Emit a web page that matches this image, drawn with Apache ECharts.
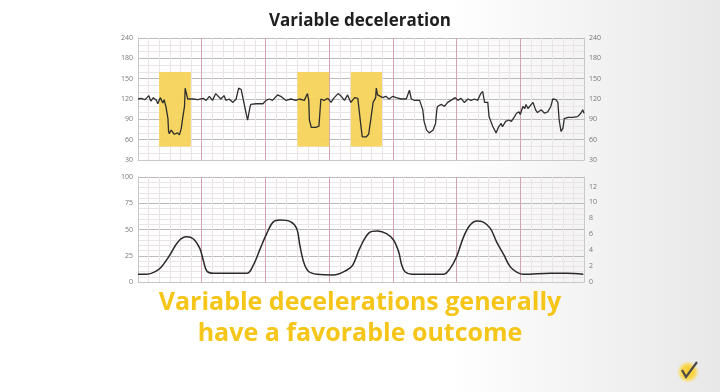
<!DOCTYPE html>
<html><head><meta charset="utf-8">
<script src="https://cdn.jsdelivr.net/npm/echarts@6/dist/echarts.min.js"></script>
<style>html,body{margin:0;padding:0;}#c{width:720px;height:392px;}</style>
</head><body><div id="c"></div>
<script>
// Fetal heart rate trace: [minute, bpm]
var fhrTime = [0.00,0.05,0.11,0.17,0.20,0.24,0.29,0.31,0.35,0.36,0.39,0.41,0.44,0.47,0.48,0.49,0.52,0.54,0.57,0.59,0.62,0.65,0.68,0.70,0.73,0.74,0.76,0.78,0.86,0.94,1.02,1.07,1.12,1.17,1.22,1.30,1.35,1.38,1.43,1.49,1.54,1.58,1.62,1.64,1.65,1.68,1.72,1.74,1.76,1.77,1.85,1.96,2.01,2.06,2.11,2.19,2.24,2.32,2.40,2.48,2.53,2.61,2.66,2.68,2.69,2.72,2.79,2.84,2.87,2.90,2.92,2.98,3.03,3.08,3.14,3.19,3.24,3.29,3.34,3.40,3.45,3.47,3.50,3.52,3.58,3.62,3.66,3.69,3.73,3.74,3.76,3.79,3.84,3.89,3.94,4.00,4.05,4.13,4.21,4.26,4.29,4.34,4.42,4.47,4.49,4.53,4.57,4.63,4.67,4.69,4.70,4.76,4.81,4.86,4.91,4.98,5.02,5.07,5.12,5.18,5.23,5.28,5.33,5.38,5.41,5.44,5.49,5.51,5.57,5.62,5.66,5.70,5.72,5.77,5.82,5.86,5.91,5.94,5.98,6.00,6.04,6.07,6.09,6.12,6.14,6.20,6.24,6.27,6.33,6.38,6.43,6.48,6.51,6.56,6.59,6.61,6.64,6.67,6.69,6.75,6.82,6.90,6.95,6.98,7.00];
var fhrBpm = [120,121,119,125,117,122,118,113,122,120,114,119,108,91,72,69,74,73,68,69,70,67,77,91,109,136,136,120,120,119,121,118,124,118,128,120,125,118,120,115,120,136,134,133,120,118,89,87,109,112,113,113,118,120,118,126,124,118,120,118,120,118,128,118,89,78,78,80,120,121,118,121,115,122,128,124,118,126,115,122,121,120,79,64,64,68,94,115,122,136,126,128,122,124,120,124,122,120,120,133,120,118,118,104,87,74,70,74,84,104,109,112,109,115,118,122,118,121,115,120,118,120,118,128,131,115,115,94,79,70,79,84,79,87,89,87,94,99,101,97,109,106,112,106,104,115,104,100,104,99,101,109,120,119,115,89,72,77,91,93,93,94,99,104,99];
// Uterine contractions: [minute, mmHg]
var ucTime = [0.00,0.14,0.27,0.37,0.50,0.63,0.76,0.87,0.97,1.03,1.08,1.18,1.71,1.81,1.92,2.02,2.12,2.23,2.39,2.49,2.54,2.60,2.67,2.81,3.07,3.28,3.37,3.48,3.63,3.76,3.90,4.01,4.09,4.14,4.19,4.30,4.79,4.90,5.00,5.11,5.21,5.32,5.42,5.53,5.63,5.74,5.84,5.95,6.05,6.47,6.73,6.99];
var ucVal = [7.3,7.3,9.8,14.6,25.7,38.4,43,41,32,19.4,10.5,8.3,8.3,16,32,46,57,59,57.5,51,35,19,10.5,7.3,6.7,11.4,16,32,47,48.5,46,40,29,16,9.8,7.3,7.3,13,24,43,54,58,57,51,38,26,14.6,9.2,7.3,8.3,8.3,7.3];
// Highlighted decelerations [start minute, end minute, bpm low, bpm high]
var highlights = [[0.33,0.83,50,160],[2.50,3.00,50,160],[3.34,3.83,50,160]];
var fhrTicksTopLabel = '240';
var titleText = 'Variable deceleration';
var captionLines = ['Variable decelerations generally','have a favorable outcome'];

function zip(a,b){return a.map(function(v,i){return [v,b[i]];});}

var chart = echarts.init(document.getElementById('c'));
var majorV = '#d3a4b0', minorC = '#ebe4e7', majorH = '#bbbbbb';
var lblStyle = {color:'#777', fontSize:7, fontFamily:'Open Sans'};
function xAx(gi){
  return {type:'value', gridIndex:gi, min:0, max:7, interval:1,
    axisLine:{show:true, lineStyle:{color:'#c8c8c8'}}, axisTick:{show:false}, axisLabel:{show:false},
    splitLine:{show:true, lineStyle:{color:majorV, width:1}},
    minorTick:{show:false, splitNumber:6},
    minorSplitLine:{show:true, lineStyle:{color:minorC, width:1}}};
}
var opt = {
  animation:false,
  backgroundColor:{type:'linear', x:0, y:0, x2:1, y2:0, colorStops:[{offset:0,color:'#ffffff'},{offset:0.62,color:'#ffffff'},{offset:1,color:'#e8e8e8'}]},
  title:{text:titleText, left:'center', top:8, textStyle:{fontFamily:'Open Sans', fontWeight:'bold', fontSize:17, color:'#1e1e1e'}},
  grid:[{left:138, right:136, top:38, height:122}, {left:138, right:136, top:177, height:105}],
  xAxis:[xAx(0), xAx(1)],
  yAxis:[
    {type:'value', gridIndex:0, min:30, max:210, interval:30, position:'left',
      axisLine:{show:true, lineStyle:{color:'#c8c8c8'}}, axisTick:{show:false},
      axisLabel:Object.assign({margin:5, formatter:function(v){return v===210?fhrTicksTopLabel:String(v);}}, lblStyle),
      splitLine:{show:true, lineStyle:{color:majorH}},
      minorTick:{show:false, splitNumber:3}, minorSplitLine:{show:true, lineStyle:{color:minorC}}},
    {type:'value', gridIndex:0, min:30, max:210, interval:30, position:'right',
      axisLine:{show:true, lineStyle:{color:'#c8c8c8'}}, axisTick:{show:false},
      axisLabel:Object.assign({margin:5, formatter:function(v){return v===210?fhrTicksTopLabel:String(v);}}, lblStyle),
      splitLine:{show:false}},
    {type:'value', gridIndex:1, min:0, max:100, interval:25, position:'left',
      axisLine:{show:true, lineStyle:{color:'#c8c8c8'}}, axisTick:{show:false},
      axisLabel:Object.assign({margin:5}, lblStyle),
      splitLine:{show:true, lineStyle:{color:majorH}},
      minorTick:{show:false, splitNumber:5}, minorSplitLine:{show:true, lineStyle:{color:minorC}}},
    {type:'value', gridIndex:1, min:0, max:13.2, interval:2, position:'right',
      axisLine:{show:true, lineStyle:{color:'#c8c8c8'}}, axisTick:{show:false},
      axisLabel:Object.assign({margin:5, showMaxLabel:false, formatter:function(v){return (v%2===0)?String(v):'';}}, lblStyle),
      splitLine:{show:false}}
  ],
  series:[
    {type:'line', xAxisIndex:0, yAxisIndex:0, data:zip(fhrTime,fhrBpm), showSymbol:false,
      lineStyle:{color:'#2e2e2e', width:1.3}, z:5,
      markArea:{silent:true, itemStyle:{color:'#f7d35a', opacity:0.95},
        data:highlights.map(function(h){return [{xAxis:h[0], yAxis:h[2]},{xAxis:h[1], yAxis:h[3]}];})}},
    {type:'line', xAxisIndex:1, yAxisIndex:2, data:zip(ucTime,ucVal), showSymbol:false, smooth:0.35,
      lineStyle:{color:'#2a2a2a', width:1.5}}
  ],
  graphic:[
    {type:'text', left:'center', top:290, style:{text:captionLines[0], fill:'#f5c518', fontFamily:'Open Sans', fontWeight:'bold', fontSize:25}},
    {type:'text', left:'center', top:321, style:{text:captionLines[1], fill:'#f5c518', fontFamily:'Open Sans', fontWeight:'bold', fontSize:25}},
    {type:'circle', shape:{cx:688, cy:372, r:11}, style:{fill:{type:'radial', x:0.5, y:0.5, r:0.5, colorStops:[{offset:0,color:'#f6cc2e'},{offset:0.6,color:'#f8d54c'},{offset:1,color:'rgba(250,225,120,0.1)'}]}}},
    {type:'polyline', shape:{points:[[682,370],[686,377],[697,362]]}, style:{stroke:'#4a4a4a', lineWidth:2.2, fill:null}}
  ]
};
chart.setOption(opt);
</script></body></html>
